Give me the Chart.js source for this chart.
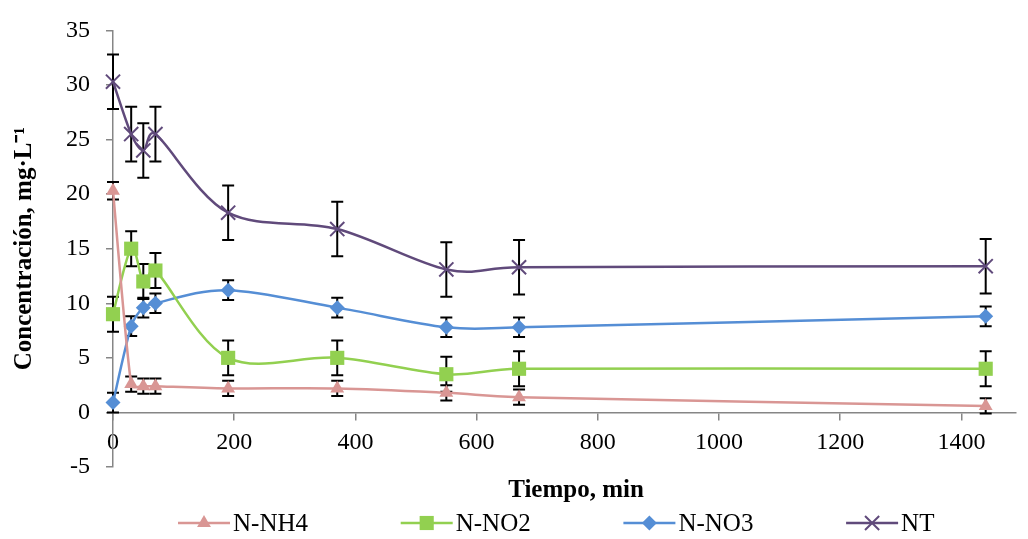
<!DOCTYPE html>
<html><head><meta charset="utf-8">
<script src="https://cdn.jsdelivr.net/npm/chart.js@4.4.0/dist/chart.umd.min.js"></script>
<style>html,body{margin:0;padding:0;background:#fff;}#wrap{width:1028px;height:539px;position:relative;}</style>
</head><body><div id="wrap"><canvas id="c"></canvas></div>
<script>
const tiempos = [0, 30, 50, 70, 190, 370, 550, 670, 1440];
const nNH4 = [20.3, 2.6, 2.4, 2.4, 2.2, 2.2, 1.8, 1.4, 0.6];
const nNO2 = [9.0, 15.0, 12.0, 13.0, 5.0, 5.0, 3.5, 4.0, 4.0];
const nNO3 = [0.9, 7.9, 9.6, 10.0, 11.2, 9.6, 7.8, 7.8, 8.8];
const nNT  = [30.3, 25.5, 24.0, 25.5, 18.3, 16.8, 13.1, 13.3, 13.4];
const errNH4 = [0.8, 0.7, 0.7, 0.7, 0.7, 0.7, 0.7, 0.7, 0.7];
const errNO2 = [1.6, 1.6, 1.6, 1.6, 1.6, 1.6, 1.6, 1.6, 1.6];
const errNO3 = [0.9, 0.9, 0.9, 0.9, 0.9, 0.9, 0.9, 0.9, 0.9];
const errNT  = [2.5, 2.5, 2.5, 2.5, 2.5, 2.5, 2.5, 2.5, 2.5];
const seriesNames = ['N-NH4', 'N-NO2', 'N-NO3', 'NT'];
const xTicks = [0, 200, 400, 600, 800, 1000, 1200, 1400];
const yTicks = [-5, 0, 5, 10, 15, 20, 25, 30, 35];
const xTitle = 'Tiempo, min';
const yTitle = 'Concentración, mg·L⁻¹';

const SERIF = "'Liberation Serif','Times New Roman',serif";
function pts(vals){ return tiempos.map((t,i)=>({x:t,y:vals[i]})); }

const styles = [
  {color:'#D99694', style:'triangle', r:8},
  {color:'#92D050', style:'rect', r:10},
  {color:'#558ED5', style:'rectRot', r:7.5},
  {color:'#604A7B', style:'crossRot', r:10}
];
const vals = [nNH4, nNO2, nNO3, nNT];
const errs = [errNH4, errNO2, errNO3, errNT];

const datasets = vals.map((v,i)=>({
  label: seriesNames[i],
  data: pts(v),
  errors: errs[i],
  borderColor: styles[i].color,
  backgroundColor: styles[i].color,
  pointBackgroundColor: styles[i].color,
  pointBorderColor: styles[i].color,
  pointStyle: styles[i].style,
  pointRadius: styles[i].r,
  pointBorderWidth: styles[i].style==='crossRot'?2:0,
  borderWidth: 2.5,
  tension: 0.4,
  fill: false,
  clip: false
}));

// Excel-like smoothing: Catmull-Rom arms (1/6 of neighbour chord), each arm capped at half its segment
const excelSmooth = {
  id:'excelSmooth',
  beforeDatasetDraw(chart, args){
    const meta = args.meta, line = meta.dataset, p = meta.data;
    if (!line || !p.length) return;
    line.updateControlPoints(chart.chartArea, 'x');
    const n = p.length;
    for (let i=0;i<n;i++){
      const prev = p[Math.max(0,i-1)], next = p[Math.min(n-1,i+1)], cur = p[i];
      let tx = (next.x - prev.x)/6, ty = (next.y - prev.y)/6;
      const len = Math.hypot(tx,ty) || 1;
      const dPrev = Math.hypot(cur.x-prev.x, cur.y-prev.y);
      const dNext = Math.hypot(next.x-cur.x, next.y-cur.y);
      const sPrev = Math.min(1, 0.5*dPrev/len), sNext = Math.min(1, 0.5*dNext/len);
      cur.cp1x = cur.x - tx*sPrev; cur.cp1y = cur.y - ty*sPrev;
      cur.cp2x = cur.x + tx*sNext; cur.cp2y = cur.y + ty*sNext;
    }
  }
};

const errorBars = {
  id:'errorBars',
  beforeDatasetsDraw(chart){
    const ctx = chart.ctx, ys = chart.scales.y;
    ctx.save();
    ctx.strokeStyle = '#000'; ctx.lineWidth = 2;
    chart.data.datasets.forEach((ds,di)=>{
      const meta = chart.getDatasetMeta(di);
      ds.data.forEach((p,i)=>{
        const e = ds.errors[i];
        const x = meta.data[i].x;
        const y1 = ys.getPixelForValue(p.y + e), y2 = ys.getPixelForValue(p.y - e);
        ctx.beginPath();
        ctx.moveTo(x,y1); ctx.lineTo(x,y2);
        ctx.moveTo(x-6,y1); ctx.lineTo(x+6,y1);
        ctx.moveTo(x-6,y2); ctx.lineTo(x+6,y2);
        ctx.stroke();
      });
    });
    ctx.restore();
  }
};

const customLegend = {
  id:'customLegend',
  afterDraw(chart){
    const ctx = chart.ctx;
    ctx.save();
    ctx.fillStyle = '#000';
    ctx.font = "bold 25px " + SERIF;
    ctx.textAlign = 'center'; ctx.textBaseline = 'middle';
    ctx.fillText(xTitle, 576, 491);
    ctx.font = "25px " + SERIF;
    ctx.textAlign = 'left';
    const x0 = 178, slot = 222.7, lineLen = 52, y = 523;
    chart.data.datasets.forEach((ds,i)=>{
      const x = x0 + i*slot;
      ctx.strokeStyle = ds.borderColor; ctx.lineWidth = 2.5;
      ctx.beginPath(); ctx.moveTo(x,y); ctx.lineTo(x+lineLen,y); ctx.stroke();
      ctx.fillStyle = ds.borderColor; ctx.strokeStyle = ds.borderColor;
      ctx.lineWidth = ds.pointBorderWidth || 0.01;
      Chart.helpers.drawPoint(ctx, {pointStyle: ds.pointStyle, radius: ds.pointRadius, borderWidth: ds.pointBorderWidth || 0}, x+lineLen/2, y);
      ctx.fillStyle = '#000';
      ctx.fillText(ds.label, x+lineLen+3, y+1);
    });
    ctx.restore();
  }
};

new Chart(document.getElementById('c'), {
  type:'line',
  data:{datasets},
  plugins:[excelSmooth, errorBars, customLegend],
  options:{
    responsive:true, maintainAspectRatio:false, animation:false,
    layout:{padding:{top:21, right:0, bottom:72, left:0}},
    plugins:{legend:{display:false}, tooltip:{enabled:false}},
    scales:{
      x:{
        type:'linear', position:{y:0}, min:0, max:1490,
        afterBuildTicks(s){ s.ticks = xTicks.map(v=>({value:v})); },
        grid:{display:true, drawOnChartArea:false, drawTicks:true, tickLength:7, color:'#868686', lineWidth:1.5},
        border:{display:true, color:'#868686', width:1.5},
        ticks:{color:'#000', font:{family:SERIF, size:24}, padding:9, maxRotation:0, autoSkip:false, callback:(v)=>String(v)}
      },
      y:{
        type:'linear', position:'left', min:-5, max:35,
        afterBuildTicks(s){ s.ticks = yTicks.map(v=>({value:v})); },
        afterFit(s){ s.width = 113; },
        grid:{display:true, drawOnChartArea:false, drawTicks:true, tickLength:7, color:'#868686', lineWidth:1.5},
        border:{display:true, color:'#868686', width:1.5},
        ticks:{color:'#000', font:{family:SERIF, size:24}, padding:16, callback:(v)=>String(v)},
        title:{display:true, text:yTitle, color:'#000', font:{family:SERIF, size:25, weight:'bold'}, padding:{top:10, bottom:0}}
      }
    }
  }
});
</script></body></html>
